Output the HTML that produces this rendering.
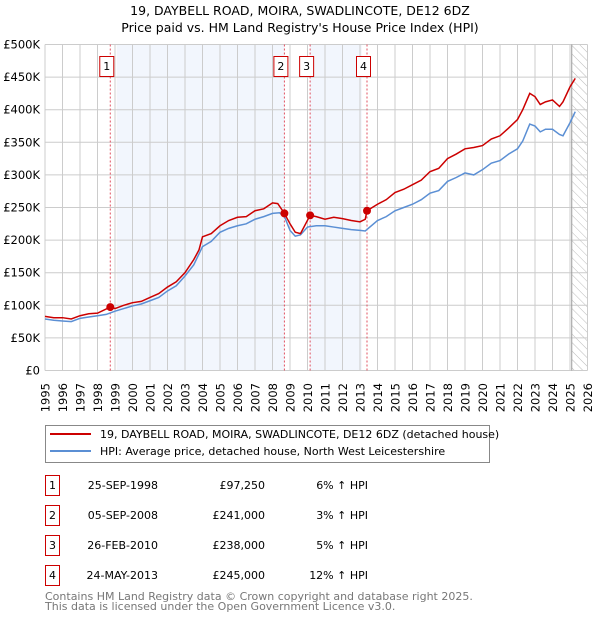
<!DOCTYPE html>
<html><head><meta charset="utf-8"><style>
body{margin:0;background:#fff;font-family:"DejaVu Sans","Liberation Sans",sans-serif;}
svg text{font-family:"DejaVu Sans","Liberation Sans",sans-serif;}
</style></head><body>
<svg id="c" width="600" height="620" xmlns="http://www.w3.org/2000/svg">
<defs><pattern id="hatch" width="6" height="6" patternUnits="userSpaceOnUse" patternTransform="rotate(-45)"><line x1="0" y1="0" x2="0" y2="6" stroke="#bbb" stroke-width="1"/></pattern></defs>
<text x="300" y="15" text-anchor="middle" font-size="12.5">19, DAYBELL ROAD, MOIRA, SWADLINCOTE, DE12 6DZ</text>
<text x="300" y="32" text-anchor="middle" font-size="12.5">Price paid vs. HM Land Registry's House Price Index (HPI)</text>
<g id="plot"></g>
<g>
<rect x="45.5" y="425.5" width="444" height="37" fill="#fff" stroke="#888"/>
<line x1="50" y1="434" x2="91" y2="434" stroke="#cc0000" stroke-width="2"/>
<text x="100" y="438" font-size="11">19, DAYBELL ROAD, MOIRA, SWADLINCOTE, DE12 6DZ (detached house)</text>
<line x1="50" y1="451" x2="91" y2="451" stroke="#5b8fd4" stroke-width="2"/>
<text x="100" y="455" font-size="11">HPI: Average price, detached house, North West Leicestershire</text>
</g>
<g id="table" font-size="11"></g>
<text x="45" y="600" font-size="11" fill="#777">Contains HM Land Registry data © Crown copyright and database right 2025.</text>
<text x="45" y="610" font-size="11" fill="#777">This data is licensed under the Open Government Licence v3.0.</text>
</svg>
<script>
const yTicks=[0,50,100,150,200,250,300,350,400,450,500];
const yTickLabels=["£0","£50K","£100K","£150K","£200K","£250K","£300K","£350K","£400K","£450K","£500K"];
const years=[1995,1996,1997,1998,1999,2000,2001,2002,2003,2004,2005,2006,2007,2008,2009,2010,2011,2012,2013,2014,2015,2016,2017,2018,2019,2020,2021,2022,2023,2024,2025,2026];
const redX=[1995,1995.5,1996,1996.5,1997,1997.5,1998,1998.73,1999,1999.5,2000,2000.5,2001,2001.5,2002,2002.5,2003,2003.5,2003.8,2004,2004.5,2005,2005.5,2006,2006.5,2007,2007.5,2008,2008.3,2008.68,2009,2009.3,2009.6,2010.15,2010.5,2011,2011.5,2012,2012.5,2013,2013.3,2013.4,2014,2014.5,2015,2015.5,2016,2016.5,2017,2017.5,2018,2018.5,2019,2019.5,2020,2020.5,2021,2021.5,2022,2022.3,2022.7,2023,2023.3,2023.6,2024,2024.4,2024.6,2025,2025.3];
const redY=[83,81,81,79,84,87,88,97.25,95,100,104,106,112,118,128,136,150,170,185,205,210,222,230,235,236,245,248,257,256,241,225,212,210,238,236,232,235,233,230,228,232,245,255,262,273,278,285,292,305,310,325,332,340,342,345,355,360,372,385,400,425,420,408,412,415,405,412,435,448];
const hpiX=[1995,1995.5,1996,1996.5,1997,1997.5,1998,1998.5,1999,1999.5,2000,2000.5,2001,2001.5,2002,2002.5,2003,2003.5,2004,2004.5,2005,2005.5,2006,2006.5,2007,2007.5,2008,2008.4,2008.7,2009,2009.3,2009.6,2010,2010.5,2011,2011.5,2012,2012.5,2013,2013.3,2014,2014.5,2015,2015.5,2016,2016.5,2017,2017.5,2018,2018.5,2019,2019.5,2020,2020.5,2021,2021.5,2022,2022.3,2022.7,2023,2023.3,2023.6,2024,2024.4,2024.6,2025,2025.3];
const hpiY=[79,77,76,75,80,82,84,86,91,95,99,102,107,112,122,130,145,162,190,198,212,218,222,225,232,236,241,242,235,215,206,208,220,222,222,220,218,216,215,214,230,236,245,250,255,262,272,276,290,296,303,300,308,318,322,332,340,352,378,375,366,370,370,362,360,380,397];
const sales=[{n:"1",d:1998.73,p:97.25,date:"25-SEP-1998",price:"£97,250",hpi:"6% ↑ HPI"},{n:"2",d:2008.68,p:241,date:"05-SEP-2008",price:"£241,000",hpi:"3% ↑ HPI"},{n:"3",d:2010.15,p:238,date:"26-FEB-2010",price:"£238,000",hpi:"5% ↑ HPI"},{n:"4",d:2013.4,p:245,date:"24-MAY-2013",price:"£245,000",hpi:"12% ↑ HPI"}];
const L=45,R=587.5,T=44.5,B=370.5;
const X=y=>L+(y-1995)*(R-L)/31, Y=v=>B-v*(B-T)/500;
const NS="http://www.w3.org/2000/svg";
function mk(tag,at,parent){const e=document.createElementNS(NS,tag);for(const k in at)e.setAttribute(k,at[k]);(parent||document.getElementById('plot')).appendChild(e);return e;}
let e;
e=mk('rect',{x:X(1999.1),y:T,width:X(2008.68)-X(1999.1),height:B-T,fill:'#eef3fc',opacity:0.75});


e=mk('rect',{x:X(2010.15),y:T,width:X(2013.1)-X(2010.15),height:B-T,fill:'#eef3fc',opacity:0.75});


e=mk('rect',{x:X(2025.1),y:T,width:R-X(2025.1),height:B-T,fill:'url(#hatch)'});


years.forEach(y=>{const g=mk('line',{x1:X(y),x2:X(y),y1:T,y2:B,stroke:'#ccc'});


const tx=X(y)+4.5, ty=383;
const t=mk('text',{x:tx,y:ty,'text-anchor':'end','font-size':11.5,transform:'rotate(-90 '+tx+' '+ty+')'});t.textContent=y;

});
yTicks.forEach((v,i)=>{const g=mk('line',{x1:L,x2:R,y1:Y(v),y2:Y(v),stroke:'#ccc'});


const t=mk('text',{x:L-5,y:Y(v)+4,'text-anchor':'end','font-size':11.5});t.textContent=yTickLabels[i];

});
e=mk('line',{x1:X(2025.1),x2:X(2025.1),y1:T,y2:B,stroke:'#999'});


sales.forEach(s=>{const l=mk('line',{x1:X(s.d),x2:X(s.d),y1:T,y2:B,stroke:'#e05060','stroke-dasharray':'2,2'});

});
e=mk('polyline',{points:hpiX.map((x,i)=>X(x)+','+Y(hpiY[i])).join(' '),fill:'none',stroke:'#5b8fd4','stroke-width':1.5});


e=mk('polyline',{points:redX.map((x,i)=>X(x)+','+Y(redY[i])).join(' '),fill:'none',stroke:'#cc0000','stroke-width':1.5});


sales.forEach(s=>{const c=mk('circle',{cx:X(s.d),cy:Y(s.p),r:4,fill:'#cc0000'});


const b=mk('rect',{x:X(s.d)-10.5,y:56.5,width:14,height:20,fill:'#fff',stroke:'#cc0000'});


const t=mk('text',{x:X(s.d)-3.5,y:70,'text-anchor':'middle','font-size':11});t.textContent=s.n;

});
const tb=document.getElementById('table');
sales.forEach((s,i)=>{const y=475+i*30;
const b=mk('rect',{x:45.5,y:y+0.5,width:14,height:20,fill:'#fff',stroke:'#cc0000'},tb);


const cells=[[52.5,'middle',s.n,'row-num'],[158,'end',s.date,'row-date'],[265,'end',s.price,'row-price'],[368,'end',s.hpi,'row-hpi']];
cells.forEach(c=>{const t=mk('text',{x:c[0],y:y+14,'text-anchor':c[1]},tb);t.textContent=c[2];

});});
</script>
</body></html>
